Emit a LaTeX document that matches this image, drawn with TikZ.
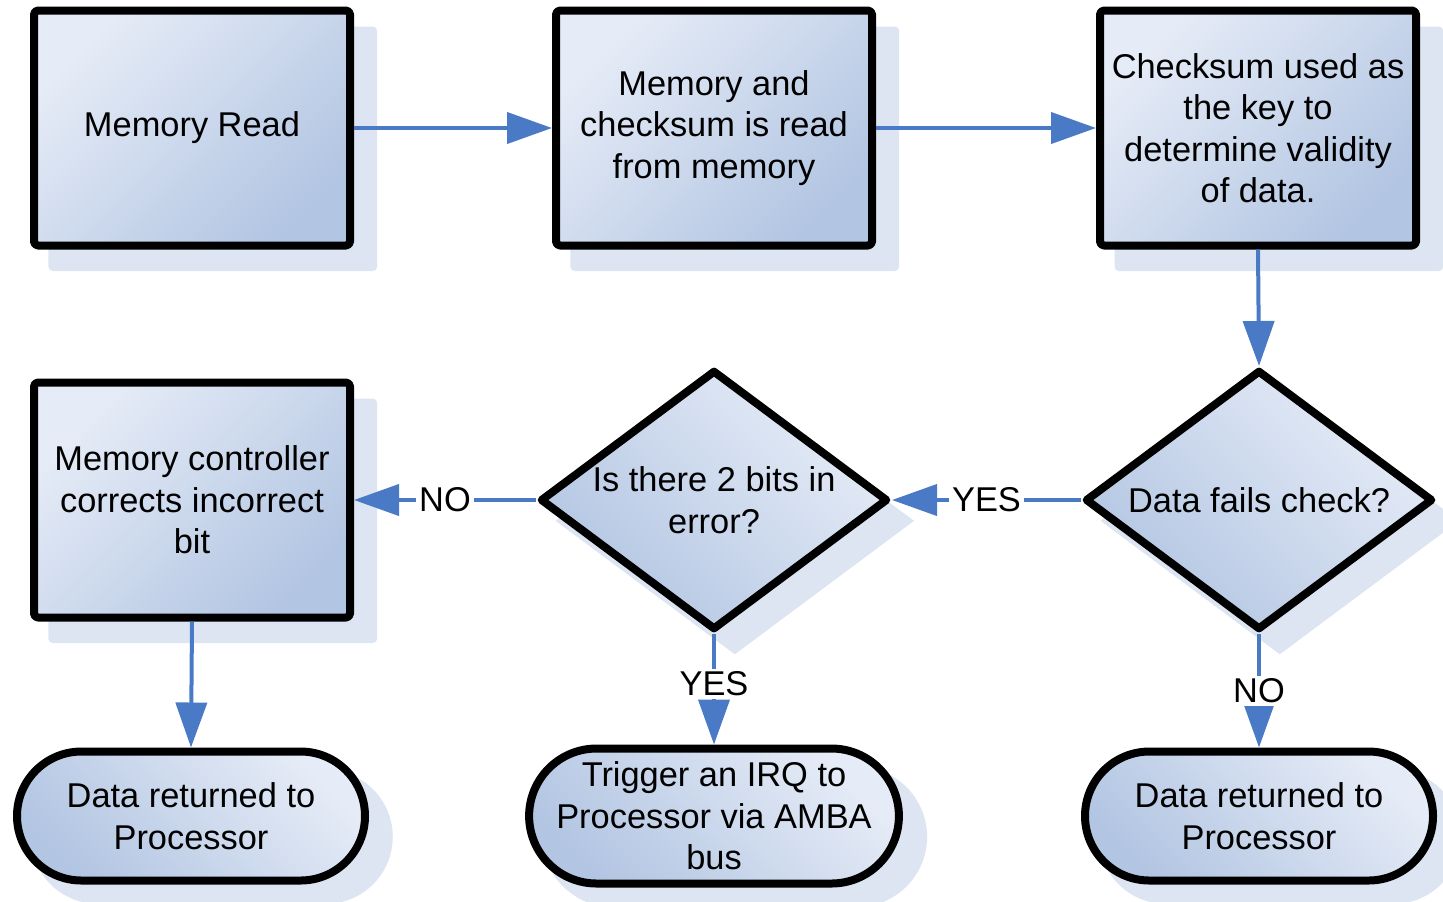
\documentclass[tikz,border=0pt]{standalone}
\usepackage{fontspec}
\setmainfont{Liberation Sans}
\usetikzlibrary{arrows.meta,shapes.geometric,shapes.misc,shadows}
\definecolor{fillhi}{HTML}{E6ECF7}
\definecolor{filllo}{HTML}{B2C5E2}
\definecolor{shadowblue}{HTML}{DDE5F2}
\definecolor{flowblue}{HTML}{4A7AC5}
\tikzset{
  basefig/.style={draw=black, line width=4pt, line join=round,
    top color=fillhi, bottom color=filllo,
    drop shadow={shadow xshift=10pt, shadow yshift=-10pt, shadow scale=1.04,
      fill=shadowblue, opacity=1},
    font=\fontsize{17.2}{20.75}\selectfont, align=center, inner sep=0pt},
  procbox/.style={basefig, rectangle, rounded corners=2pt,
    minimum width=158pt, minimum height=117.5pt, shading angle=45},
  decision/.style={basefig, diamond, aspect=1.34,
    minimum width=174pt, minimum height=130pt, shading angle=-45},
  terminal/.style={basefig, rounded rectangle, shading angle=-45},
  flow/.style={draw=flowblue, line width=2pt,
    -{Triangle[length=22.5pt, width=15.5pt]}},
  lbl/.style={fill=white, inner sep=1.5pt, font=\fontsize{17.2}{20}\selectfont}
}
\begin{document}
\begin{tikzpicture}[x=0.5pt, y=-0.5pt]
\useasboundingbox (0,0) rectangle (1443,901);

% top row of process steps
\node[procbox] (read) at (192,128) {Memory Read};
\node[procbox] (fetch) at (714,128) {Memory and\\checksum is read\\from memory};
\node[procbox] (key) at (1258,128) {Checksum used as\\the key to\\determine validity\\of data.};

% decisions
\node[decision] (fails) at (1259,500) {Data fails check?};
\node[decision] (twobits) at (714,500) {Is there 2 bits in\\error?};

% correction step
\node[procbox] (correct) at (192,500) {Memory controller\\corrects incorrect\\bit};

% end points
\node[terminal, minimum width=174pt, minimum height=64.5pt] (retL) at (191,816)
  {Data returned to\\Processor};
\node[terminal, minimum width=179.5pt, minimum height=67.5pt] (irq) at (714,816)
  {Trigger an IRQ to\\Processor via AMBA\\bus};
\node[terminal, minimum width=174pt, minimum height=64.5pt] (retR) at (1259,816)
  {Data returned to\\Processor};

% connectors
\draw[flow] (read.east) -- (fetch.west);
\draw[flow] (fetch.east) -- (key.west);
\draw[flow] (key.south) -- (fails.north);
\draw[flow] (fails.west) -- node[lbl, pos=0.5] {YES} (twobits.east);
\draw[flow] (twobits.west) -- node[lbl, pos=0.5] {NO} (correct.east);
\draw[flow] (correct.south) -- (retL.north);
\draw[flow] (twobits.south) -- node[lbl, pos=0.45] {YES} (irq.north);
\draw[flow] (fails.south) -- node[lbl, pos=0.5] {NO} (retR.north);
\end{tikzpicture}
\end{document}
